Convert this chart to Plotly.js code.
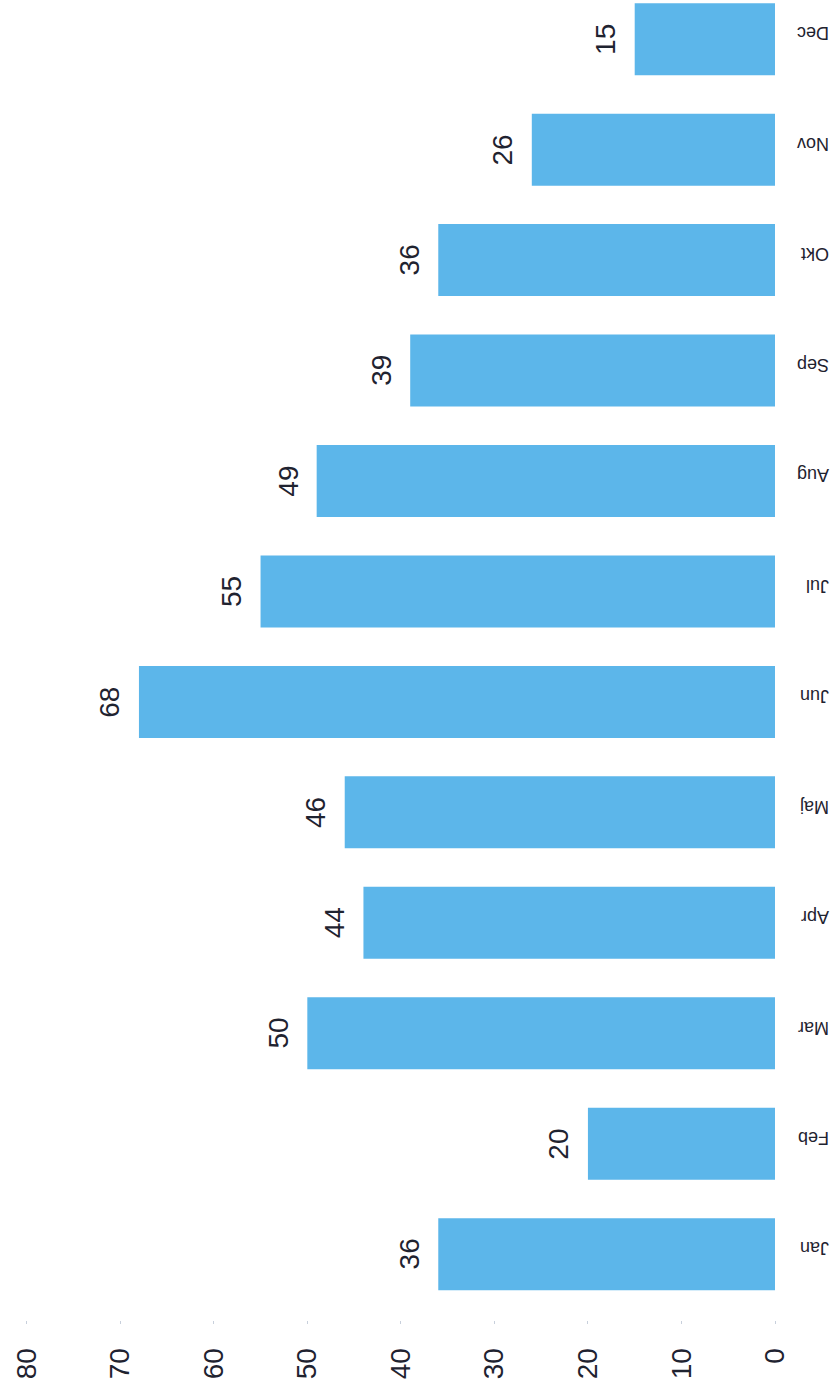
<!DOCTYPE html>
<html>
<head>
<meta charset="utf-8">
<script src="https://cdn.plot.ly/plotly-3.0.1.min.js"></script>
<style>
html,body{margin:0;padding:0;background:#fff;}
#chart{width:838px;height:1394px;}
</style>
</head>
<body>
<div id="chart"></div>
<script>
const months = ["Jan","Feb","Mar","Apr","Maj","Jun","Jul","Aug","Sep","Okt","Nov","Dec"];
const values = [36,20,50,44,46,68,55,49,39,36,26,15];
const valueTicks = [0,10,20,30,40,50,60,70,80];

const barColor = "#5cb6ea";
const textColor = "#1f2330";

const trace = {
  type: "bar",
  orientation: "h",
  y: months,
  x: values,
  marker: {color: barColor},
  hoverinfo: "x+y"
};

const annotations = months.map((m, i) => ({
  x: values[i],
  y: m,
  xref: "x",
  yref: "y",
  text: String(values[i]),
  textangle: -90,
  showarrow: false,
  xanchor: "center",
  yanchor: "middle",
  xshift: -29,
  font: {family: "Liberation Sans, Arial, sans-serif", size: 28, color: textColor}
}));

const layout = {
  width: 838,
  height: 1394,
  margin: {l: 8, r: 63, t: 0, b: 74},
  paper_bgcolor: "#ffffff",
  plot_bgcolor: "#ffffff",
  showlegend: false,
  bargap: 0.348,
  xaxis: {
    range: [82, 0],
    tickvals: valueTicks,
    ticktext: valueTicks.map(String),
    tickangle: -90,
    ticks: "outside",
    ticklen: 3,
    tickcolor: "#c8d0dc",
    ticklabelstandoff: 13,
    showgrid: false,
    zeroline: false,
    showline: false,
    tickfont: {family: "Liberation Sans, Arial, sans-serif", size: 28, color: textColor}
  },
  yaxis: {
    type: "category",
    categoryorder: "array",
    categoryarray: months,
    range: [-0.596, 11.355],
    side: "right",
    tickangle: 180,
    ticks: "",
    showgrid: false,
    zeroline: false,
    showline: false,
    ticklabelstandoff: 53,
    tickfont: {family: "Liberation Sans, Arial, sans-serif", size: 18, color: textColor}
  },
  annotations: annotations
};

Plotly.newPlot("chart", [trace], layout, {displayModeBar: false, staticPlot: true});
</script>
</body>
</html>
